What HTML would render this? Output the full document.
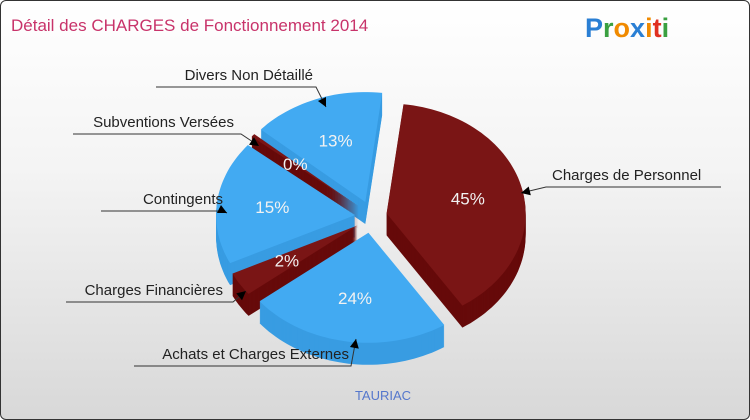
<!DOCTYPE html>
<html><head><meta charset="utf-8"><style>
body{margin:0;width:750px;height:420px;overflow:hidden;font-family:"Liberation Sans",sans-serif}
#wrap{position:absolute;left:0;top:0;width:748px;height:418px;border:1px solid #333;border-radius:6px;background:linear-gradient(#ffffff 0%,#f4f4f4 40%,#d8d8d8 100%);overflow:hidden}
</style></head><body>
<div id="wrap">
<svg id="svg" width="750" height="420">
<text x="10" y="30" font-size="17" fill="#c8336a">Détail des CHARGES de Fonctionnement 2014</text>
<g font-size="27" font-weight="bold" font-family="Liberation Sans, sans-serif">
<text x="584" y="36"><tspan fill="#2a7fd4">P</tspan><tspan fill="#3aa040">r</tspan><tspan fill="#f08a00">o</tspan><tspan fill="#2a7fd4">x</tspan><tspan fill="#f08a00">i</tspan><tspan fill="#e03020">t</tspan><tspan fill="#3aa040">i</tspan></text>
</g>
<g id="slices"></g>
<g id="labels" font-size="15" fill="#222"></g>
<text x="382" y="399" font-size="13" fill="#5577cc" text-anchor="middle">TAURIAC</text>
</svg>
</div>
<script>
const categories=["Charges de Personnel","Achats et Charges Externes","Charges Financières","Contingents","Subventions Versées","Divers Non Détaillé"];
const values=[45,24,2,15,0.4,13];
const pctLabels=["45%","24%","2%","15%","0%","13%"];
const topColors=["#7a1515","#42aaf2","#7a1515","#42aaf2","#7a1515","#42aaf2"];
const sideColors=["#660a0a","#389ce2","#660a0a","#389ce2","#660a0a","#389ce2"];
const NS="http://www.w3.org/2000/svg";
const cx=370,cy=216,rx=139,ry=110,depth=22,explode=16,startDeg=7;
// perspective warp of angles (true angle from start -> displayed)
const warpIn=[0,162,248,256,309.6,311,360];
const warpOut=[0,139,221,236,288,302,360];
function warp(a){for(let k=1;k<warpIn.length;k++){if(a<=warpIn[k]){const t=(a-warpIn[k-1])/(warpIn[k]-warpIn[k-1]);return warpOut[k-1]+t*(warpOut[k]-warpOut[k-1]);}}return a;}
const total=values.reduce((a,b)=>a+b,0);
function pt(ax,ay,deg,f){const r=deg*Math.PI/180;return [ax+Math.sin(r)*rx*f,ay-Math.cos(r)*ry*f];}
function slicePath(ax,ay,a0,a1,dy){let d="M"+ax+","+(ay+dy);const n=Math.max(2,Math.ceil((a1-a0)/2));for(let i=0;i<=n;i++){const p=pt(ax,ay,a0+(a1-a0)*i/n,1);d+=" L"+p[0].toFixed(1)+","+(p[1]+dy).toFixed(1);}return d+"Z";}
const g=document.getElementById('slices');
let acc=0;const sl=[];
values.forEach((v,i)=>{const span=v/total*360;const a0=startDeg+warp(acc),a1=startDeg+warp(acc+span);acc+=span;const mid=(a0+a1)/2;const r=mid*Math.PI/180;const ax=cx+Math.sin(r)*explode,ay=cy-Math.cos(r)*explode;sl.push({i,a0,a1,mid,ax,ay,my:-Math.cos(r)});});
sl.slice().sort((a,b)=>a.my-b.my).forEach(s=>{
 const grp=document.createElementNS(NS,'g');
 
 
 for(let d=depth;d>0;d-=1){const p=document.createElementNS(NS,'path');p.setAttribute('d',slicePath(s.ax,s.ay,s.a0,s.a1,d));p.setAttribute('fill',sideColors[s.i]);grp.appendChild(p);}
 const t=document.createElementNS(NS,'path');t.setAttribute('d',slicePath(s.ax,s.ay,s.a0,s.a1,0));t.setAttribute('fill',topColors[s.i]);grp.appendChild(t);
 g.appendChild(grp);
});
sl.forEach(s=>{const p=pt(s.ax,s.ay,s.mid,0.6);const t=document.createElementNS(NS,'text');t.setAttribute('x',p[0]);t.setAttribute('y',p[1]+6);t.setAttribute('text-anchor','middle');t.setAttribute('font-size','17');t.setAttribute('fill','#f2f2f2');t.textContent=pctLabels[s.i];
 
 
 g.appendChild(t);});
const callouts=[[551,179,545,720,520,192,"start"],[348,358,133,350,355,338,"end"],[222,294,65,232,245,290,"end"],[222,203,100,222,226,212,"end"],[233,126,72,240,258,145,"end"],[312,79,155,315,325,106,"end"]];
const L=document.getElementById('labels');
callouts.forEach((c,i)=>{const gr=document.createElementNS(NS,'g');
 
 
 const uy=c[1]+7;const near=c[6]=="start"?c[2]:c[3];const far=c[6]=="start"?c[3]:c[2];
 const ln=document.createElementNS(NS,'polyline');
 ln.setAttribute('points',far+","+uy+" "+near+","+uy+" "+c[4]+","+c[5]);ln.setAttribute('fill','none');ln.setAttribute('stroke','#333');ln.setAttribute('stroke-width','1');gr.appendChild(ln);
 const ang=Math.atan2(c[5]-uy,c[4]-near);const s=9,w=4.5;
 const ah=document.createElementNS(NS,'polygon');const bx=c[4]-Math.cos(ang)*s,by=c[5]-Math.sin(ang)*s;
 ah.setAttribute('points',c[4]+","+c[5]+" "+(bx-Math.sin(ang)*w)+","+(by+Math.cos(ang)*w)+" "+(bx+Math.sin(ang)*w)+","+(by-Math.cos(ang)*w));ah.setAttribute('fill','#000');gr.appendChild(ah);
 const t=document.createElementNS(NS,'text');t.setAttribute('x',c[0]);t.setAttribute('y',c[1]);t.setAttribute('text-anchor',c[6]);t.textContent=categories[i];gr.appendChild(t);
 L.appendChild(gr);});
</script>
</body></html>
